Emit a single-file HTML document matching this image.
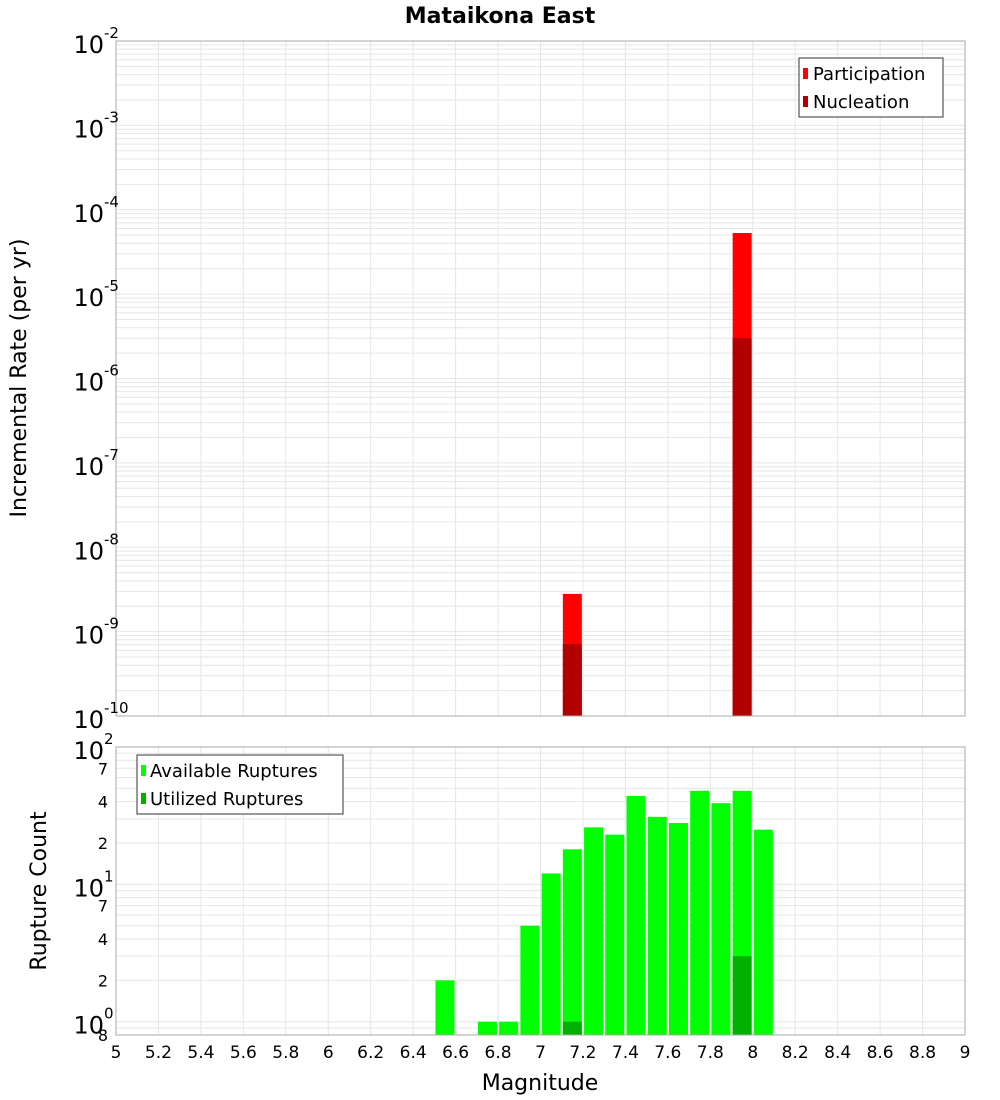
<!DOCTYPE html>
<html><head><meta charset="utf-8"><style>
body{margin:0;background:#fff;}
svg{display:block;font-family:"DejaVu Sans","Liberation Sans",sans-serif;}
</style></head><body>
<svg id="c" width="1000" height="1100" xmlns="http://www.w3.org/2000/svg"></svg>
<script>
const rateMags=[7.15,7.95];
const participation=[2.8e-9,5.3e-5];
const nucleation=[7.1e-10,3.0e-6];
const countMags=[6.55,6.75,6.85,6.95,7.05,7.15,7.25,7.35,7.45,7.55,7.65,7.75,7.85,7.95,8.05];
const available=[2,1,1,5,12,18,26,23,44,31,28,48,39,48,25];
const utilMags=[7.15,7.95];
const utilized=[1,3];
const xTicks=["5","5.2","5.4","5.6","5.8","6","6.2","6.4","6.6","6.8","7","7.2","7.4","7.6","7.8","8","8.2","8.4","8.6","8.8","9"];

const NS="http://www.w3.org/2000/svg";
const svg=document.getElementById('c');
function el(t,a,p){const e=document.createElementNS(NS,t);for(const k in a)e.setAttribute(k,a[k]);(p||svg).appendChild(e);return e;}
const X0=116,X1=965;
const xs=m=>X0+(m-5)/4*(X1-X0);
const T0=41,T1=716;
const yt=v=>T1-(Math.log10(v)+10)/8*(T1-T0);
const B0=747,B1=1035;
const lb=Math.log10(0.8);
const yb=v=>B1-(Math.log10(v)-lb)/(2-lb)*(B1-B0);
const bw=19;

function grid(top,bot,yf,lo,hi){
  const g=el('g',{});
  
  
  for(let e=lo;e<hi;e++)for(let k=1;k<10;k++){const v=k*Math.pow(10,e);const y=yf(v);if(y<top-0.5||y>bot+0.5)continue;
    el('line',{x1:X0,x2:X1,y1:y,y2:y,stroke:'#e6e6e6','stroke-width':1},g);}
  for(const t of xTicks){const x=xs(+t);el('line',{x1:x,x2:x,y1:top,y2:bot,stroke:'#e6e6e6','stroke-width':1},g);}
}
// Title
const title=el('text',{x:500,y:23,'text-anchor':'middle','font-size':22,'font-weight':'bold'});
title.textContent='Mataikona East';



// top plot
grid(T0,T1,yt,-10,-1);
for(let i=0;i<rateMags.length;i++){
  const x=xs(rateMags[i])-bw/2;
  const r=el('rect',{x:x,y:yt(participation[i]),width:bw,height:T1-yt(participation[i]),fill:'#ff0000'});
  
  
  const n=el('rect',{x:x,y:yt(nucleation[i]),width:bw,height:T1-yt(nucleation[i]),fill:'#b00000'});
  
  
}
el('rect',{x:X0,y:T0,width:X1-X0,height:T1-T0,fill:'none',stroke:'#aaa'});
for(let e=-10;e<=-2;e++){
  const y=yt(Math.pow(10,e));
  const t=el('text',{x:104,y:y+12,'text-anchor':'end','font-size':24});
  t.textContent='10';
  
  
  const s=el('text',{x:104,y:y-3,'font-size':15});s.textContent=String(e);
}
const yl=el('text',{transform:'translate(26,378) rotate(-90)','text-anchor':'middle','font-size':22});
yl.textContent='Incremental Rate (per yr)';


// legend top
const lg=el('g',{});


el('rect',{x:799,y:58,width:144,height:59,fill:'#fff',stroke:'#333'},lg);
el('rect',{x:803,y:68,width:5,height:11,fill:'#ff0000'},lg);
el('rect',{x:803,y:96,width:5,height:11,fill:'#b00000'},lg);
let t1=el('text',{x:813,y:80,'font-size':18},lg);t1.textContent='Participation';
let t2=el('text',{x:813,y:108,'font-size':18},lg);t2.textContent='Nucleation';

// bottom plot
grid(B0,B1,yb,-1,2);
for(let i=0;i<countMags.length;i++){
  const r=el('rect',{x:xs(countMags[i])-bw/2,y:yb(available[i]),width:bw,height:B1-yb(available[i]),fill:'#00ff00'});
  
  
}
for(let i=0;i<utilMags.length;i++){
  const r=el('rect',{x:xs(utilMags[i])-bw/2,y:yb(utilized[i]),width:bw,height:B1-yb(utilized[i]),fill:'#00b000'});
  
  
}
el('rect',{x:X0,y:B0,width:X1-X0,height:B1-B0,fill:'none',stroke:'#aaa'});
[[100,'10','2'],[10,'10','1'],[1,'10','0']].forEach(([v,b,s])=>{
  const y=yb(v);
  const t=el('text',{x:104,y:y+12,'text-anchor':'end','font-size':24});t.textContent=b;
  
  
  const u=el('text',{x:104,y:y-3,'font-size':15});u.textContent=s;
});
[70,40,20,7,4,2,0.8].forEach(v=>{
  const y=yb(v);
  const t=el('text',{x:108,y:y+6,'text-anchor':'end','font-size':16});t.textContent=v===0.8?'8':String(v>=10?v/10:v);
  
  
});
const yl2=el('text',{transform:'translate(46,891) rotate(-90)','text-anchor':'middle','font-size':22});
yl2.textContent='Rupture Count';


const lg2=el('g',{});


el('rect',{x:137,y:755,width:206,height:59,fill:'#fff',stroke:'#333'},lg2);
el('rect',{x:141,y:765,width:5,height:11,fill:'#00ff00'},lg2);
el('rect',{x:141,y:793,width:5,height:11,fill:'#00b000'},lg2);
let t3=el('text',{x:150,y:777,'font-size':18},lg2);t3.textContent='Available Ruptures';
let t4=el('text',{x:150,y:805,'font-size':18},lg2);t4.textContent='Utilized Ruptures';
for(const t of xTicks){
  const tx=el('text',{x:xs(+t),y:1058,'text-anchor':'middle','font-size':17});tx.textContent=t;
  
  
}
const xl=el('text',{x:540,y:1090,'text-anchor':'middle','font-size':22});
xl.textContent='Magnitude';


</script>
</body></html>
